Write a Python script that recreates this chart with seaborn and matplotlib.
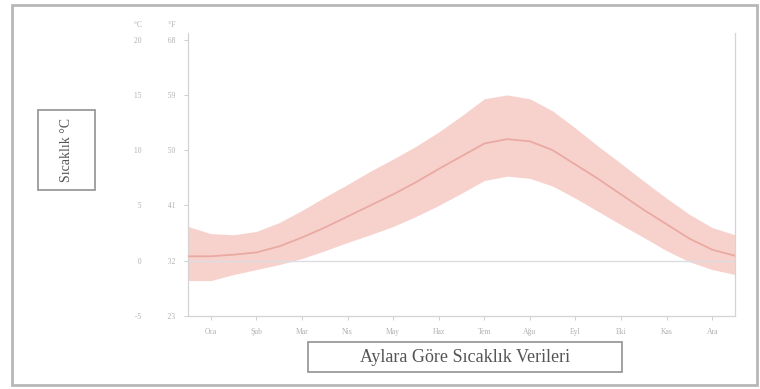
import matplotlib
matplotlib.use("Agg")
import matplotlib.pyplot as plt
from matplotlib.patches import Rectangle
import numpy as np
import pandas as pd
import seaborn as sns

# Half-month positions (1 = Ocak ... 12 = Aralık)
ay_konum = [0.5, 1.0, 1.5, 2.0, 2.5, 3.0, 3.5, 4.0, 4.5, 5.0, 5.5, 6.0, 6.5,
            7.0, 7.5, 8.0, 8.5, 9.0, 9.5, 10.0, 10.5, 11.0, 11.5, 12.0, 12.5]

# Mean temperature (°C)
ortalama = [0.4, 0.4, 0.55, 0.75, 1.3, 2.1, 3.0, 4.0, 5.0, 6.0, 7.1, 8.3, 9.45,
            10.6, 11.0, 10.8, 10.0, 8.7, 7.4, 6.0, 4.6, 3.3, 2.0, 1.0, 0.45]

# Upper and lower bounds of the range (°C)
ust_sinir = [3.1, 2.45, 2.35, 2.65, 3.45, 4.55, 5.75, 6.9, 8.1, 9.2, 10.35, 11.65, 13.1,
             14.65, 15.0, 14.65, 13.55, 12.0, 10.35, 8.8, 7.2, 5.65, 4.2, 3.0, 2.35]
alt_sinir = [-1.8, -1.8, -1.25, -0.8, -0.35, 0.2, 0.9, 1.65, 2.35, 3.1, 4.0, 5.0, 6.1,
             7.25, 7.65, 7.45, 6.75, 5.65, 4.45, 3.25, 2.1, 0.9, -0.1, -0.8, -1.25]

ay_adlari = ["Oca", "Şub", "Mar", "Nis", "May", "Haz",
             "Tem", "Ağu", "Eyl", "Eki", "Kas", "Ara"]
y_degerleri = [-5, 0, 5, 10, 15, 20]

sns.set_theme(style="white")
plt.rcParams["font.family"] = ["Liberation Serif", "DejaVu Sans"]

df = pd.DataFrame({"ay": ay_konum, "ort": ortalama,
                   "ust": ust_sinir, "alt": alt_sinir})

fig = plt.figure(figsize=(7.6, 3.89), dpi=100)
ax = fig.add_axes([188 / 760, 1 - 316 / 389, 547 / 760, 283 / 389])

ax.fill_between(df["ay"], df["alt"], df["ust"], color="#f6cbc5",
                alpha=0.85, linewidth=0, zorder=1)
ax.axhline(0, color="#dcdde3", lw=1.0, zorder=2)
sns.lineplot(data=df, x="ay", y="ort", ax=ax, color="#eaa9a2", lw=1.3,
             zorder=3)

ax.set_xlim(0.5, 12.5)
ax.set_ylim(-5, 20.6)

ax.set_xticks(range(1, 13))
ax.set_xticklabels(ay_adlari, fontsize=5.5, color="#b0b0b0")
ax.set_yticks(y_degerleri)
ax.set_yticklabels([f"{c:>3}              {round(c * 9 / 5 + 32)}" for c in y_degerleri],
                   fontsize=5.5, color="#b0b0b0")
ax.tick_params(axis="both", length=3, width=0.6, color="#c8c8c8",
               direction="out", bottom=True, left=True, pad=6)

ax.set_xlabel("")
ax.set_ylabel("")
for side in ["left", "right", "bottom"]:
    ax.spines[side].set_visible(True)
    ax.spines[side].set_color("#d4d4d4")
    ax.spines[side].set_linewidth(0.9)
ax.spines["top"].set_visible(False)

# Column header above the y tick labels
fig.text(155 / 760, 1 - 25 / 389, "°C              °F", fontsize=5.5,
         color="#b0b0b0", ha="center", va="center")

# Boxed axis titles
fig.patches.append(Rectangle((38 / 760, 1 - 190 / 389), 57 / 760, 80 / 389,
                             transform=fig.transFigure, fill=False,
                             ec="#9a9a9a", lw=1.3))
fig.text(66 / 760, 1 - 150 / 389, "Sıcaklık °C", rotation=90, fontsize=10,
         color="#555555", ha="center", va="center")

fig.patches.append(Rectangle((308 / 760, 1 - 372 / 389), 314 / 760, 30 / 389,
                             transform=fig.transFigure, fill=False,
                             ec="#9a9a9a", lw=1.3))
fig.text(465 / 760, 1 - 357 / 389, "Aylara Göre Sıcaklık Verileri", fontsize=13,
         color="#555555", ha="center", va="center")

# Outer frame
fig.patches.append(Rectangle((12 / 760, 1 - 385 / 389), 745 / 760, 380 / 389,
                             transform=fig.transFigure, fill=False,
                             ec="#b8b8b8", lw=2))

fig.savefig("out.png", dpi=100)
